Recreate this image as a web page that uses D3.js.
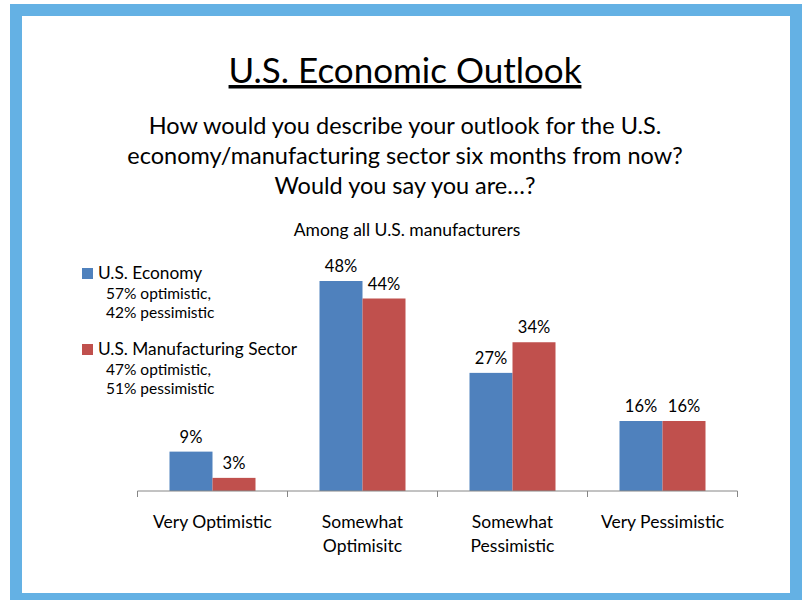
<!DOCTYPE html>
<html>
<head>
<meta charset="utf-8">
<script src="https://cdnjs.cloudflare.com/ajax/libs/d3/7.8.5/d3.min.js"></script>
<style>
  html, body { margin: 0; padding: 0; background: #fff; }
  svg text { font-family: Lato, "Open Sans", sans-serif; fill: #000; }
</style>
</head>
<body>
<div id="chart"></div>
<script>
// Dados
const categories = ['Very Optimistic', 'Somewhat Optimisitc', 'Somewhat Pessimistic', 'Very Pessimistic'];
const categoryLines = [['Very Optimistic'], ['Somewhat', 'Optimisitc'], ['Somewhat', 'Pessimistic'], ['Very Pessimistic']];
const seriesNames = ['U.S. Economy', 'U.S. Manufacturing Sector'];
const economy = [9, 48, 27, 16];
const manufacturing = [3, 44, 34, 16];
const seriesNotes = [['57% optimistic,', '42% pessimistic'], ['47% optimistic,', '51% pessimistic']];
const subtitleLines = [
  'How would you describe your outlook for the U.S.',
  'economy/manufacturing sector six months from now?',
  'Would you say you are\u2026?'
];

const W = 806, H = 600;
const colors = ['#4F81BD', '#C0504D'];

const svg = d3.select('#chart').append('svg')
  .attr('width', W)
  .attr('height', H);

// Moldura
svg.append('rect')
  .attr('x', 16).attr('y', 10)
  .attr('width', 780).attr('height', 589)
  .attr('fill', '#fff')
  .attr('stroke', '#64B1E4')
  .attr('stroke-width', 12);

// Título
svg.append('text')
  .attr('x', 405).attr('y', 83)
  .attr('text-anchor', 'middle')
  .style('font-size', '35px')
  .style('text-decoration', 'underline')
  .text('U.S. Economic Outlook');

svg.selectAll('.sub')
  .data(subtitleLines)
  .enter().append('text')
  .attr('class', 'sub')
  .attr('x', 405)
  .attr('y', (d, i) => 134 + i * 30)
  .attr('text-anchor', 'middle')
  .style('font-size', '23.5px')
  .text(d => d);

svg.append('text')
  .attr('x', 407).attr('y', 236)
  .attr('text-anchor', 'middle')
  .style('font-size', '17.5px')
  .text('Among all U.S. manufacturers');

// Escalas
const x0 = d3.scaleBand()
  .domain(categories)
  .range([137.5, 737.5])
  .padding(0);

const x1 = d3.scaleBand()
  .domain(seriesNames)
  .range([0, 86]);

const y = d3.scaleLinear()
  .domain([0, 50])
  .range([491, 272.25]);

const barOffset = (x0.bandwidth() - 86) / 2;

const rows = categories.map((c, i) => ({
  cat: c,
  values: [
    { s: seriesNames[0], v: economy[i], k: 0 },
    { s: seriesNames[1], v: manufacturing[i], k: 1 }
  ]
}));

// Barras
const groups = svg.selectAll('.grp')
  .data(rows)
  .enter().append('g')
  .attr('class', 'grp')
  .attr('transform', d => `translate(${x0(d.cat) + barOffset},0)`);

groups.selectAll('rect')
  .data(d => d.values)
  .enter().append('rect')
  .attr('x', d => x1(d.s))
  .attr('y', d => y(d.v))
  .attr('width', x1.bandwidth())
  .attr('height', d => y(0) - y(d.v))
  .attr('fill', d => colors[d.k]);

// Labels de valores
groups.selectAll('.val')
  .data(d => d.values)
  .enter().append('text')
  .attr('class', 'val')
  .attr('x', d => x1(d.s) + x1.bandwidth() / 2)
  .attr('y', d => y(d.v) - 9)
  .attr('text-anchor', 'middle')
  .style('font-size', '16.5px')
  .text(d => d.v + '%');

// Eixo
const axis = svg.append('g')
  .attr('transform', `translate(0,${y(0)})`)
  .call(d3.axisBottom(x0).tickSize(0).tickFormat(''));
axis.select('.domain').attr('stroke', '#868686').attr('d', `M${x0.range()[0]},0H${x0.range()[1]}`);

const edges = categories.map(c => x0(c)).concat([x0.range()[1]]);
axis.selectAll('.edge')
  .data(edges)
  .enter().append('line')
  .attr('class', 'edge')
  .attr('x1', d => d).attr('x2', d => d)
  .attr('y1', 0).attr('y2', 6)
  .attr('stroke', '#868686');

// Categorias
const catLabels = svg.selectAll('.cat')
  .data(categories)
  .enter().append('text')
  .attr('class', 'cat')
  .attr('x', d => x0(d) + x0.bandwidth() / 2)
  .attr('y', 528)
  .attr('text-anchor', 'middle')
  .style('font-size', '17.5px');

catLabels.selectAll('tspan')
  .data((d, i) => categoryLines[i])
  .enter().append('tspan')
  .attr('x', function() { return d3.select(this.parentNode).attr('x'); })
  .attr('dy', (d, i) => i === 0 ? 0 : 23.5)
  .text(d => d);

// Legenda
const legend = svg.append('g');
const legendY = [268, 344];

seriesNames.forEach((name, i) => {
  const g = legend.append('g')
    .attr('transform', `translate(82,${legendY[i]})`);
  g.append('rect')
    .attr('width', 11).attr('height', 11)
    .attr('fill', colors[i]);
  g.append('text')
    .attr('x', 16).attr('y', 11)
    .style('font-size', '17.3px')
    .text(name);
  g.selectAll('.note')
    .data(seriesNotes[i])
    .enter().append('text')
    .attr('class', 'note')
    .attr('x', 24)
    .attr('y', (d, j) => 31 + j * 19)
    .style('font-size', '15.5px')
    .text(d => d);
});
</script>
</body>
</html>
